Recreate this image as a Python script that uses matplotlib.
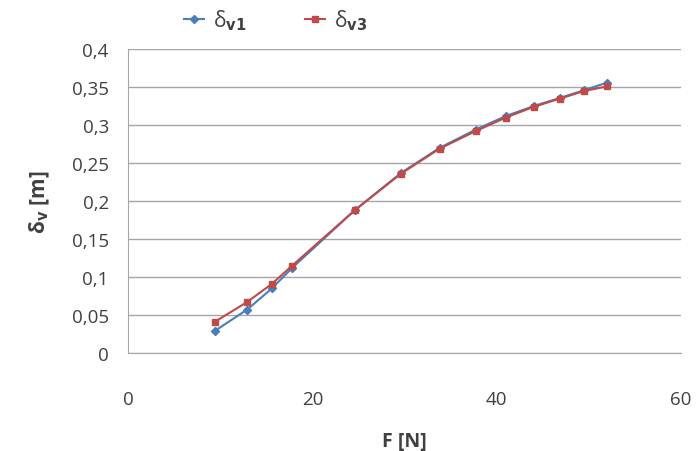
import matplotlib
matplotlib.use("Agg")
import matplotlib.pyplot as plt
from matplotlib.ticker import FuncFormatter

# force F [N]
force = [9.4, 12.9, 15.6, 17.8, 24.6, 29.6, 33.8, 37.7, 41.0, 44.0, 46.9, 49.5, 52.0]
# deflection delta_v1 and delta_v3 [m]
delta_v1 = [0.029, 0.057, 0.085, 0.112, 0.188, 0.237, 0.270, 0.294, 0.312, 0.325, 0.336, 0.346, 0.356]
delta_v3 = [0.041, 0.067, 0.091, 0.115, 0.188, 0.236, 0.269, 0.292, 0.310, 0.324, 0.335, 0.345, 0.351]

plt.rcParams['font.family'] = ['Open Sans', 'DejaVu Sans']

fig = plt.figure(figsize=(6.97, 4.52), dpi=100)
ax = fig.add_axes([0.184, 0.217, 0.793, 0.672])

ax.plot(force, delta_v1, color='#4a7ebb', marker='D', markersize=4.5, linewidth=1.5,
        label=r'$\mathregular{\delta_{\mathbf{v1}}}$')
ax.plot(force, delta_v3, color='#be4b48', marker='s', markersize=5, linewidth=1.5,
        label=r'$\mathregular{\delta_{\mathbf{v3}}}$')

ax.set_xlim(0, 60)
ax.set_ylim(0, 0.4)
ax.set_xticks([0, 20, 40, 60])
ax.set_yticks([i * 0.05 for i in range(9)])
ax.yaxis.set_major_formatter(FuncFormatter(lambda v, p: ('%g' % round(v, 2)).replace('.', ',')))
ax.grid(axis='y', color='#a6a6a6', linewidth=1)
ax.set_axisbelow(True)

for s in ['top', 'right']:
    ax.spines[s].set_visible(False)
ax.spines['left'].set_color('#a6a6a6')
ax.spines['bottom'].set_color('#a6a6a6')
ax.tick_params(length=0, labelsize=13.5, colors='#404040')
ax.tick_params(axis='x', pad=27)
ax.tick_params(axis='y', pad=14)

ax.set_xlabel('F [N]', fontsize=14, fontweight='bold', color='#404040', labelpad=16)
ax.set_ylabel(r'$\mathregular{\delta_{\mathbf{v}}}$ [m]', fontsize=15, color='#404040', labelpad=14)
ax.yaxis.label.set_fontweight('bold')

fig.legend(loc='center', bbox_to_anchor=(0.395, 0.955), ncol=2, frameon=False,
           fontsize=15, handlelength=1.0, columnspacing=2.8, handletextpad=0.4,
           labelcolor='#404040')

fig.savefig('out.png', dpi=100)
